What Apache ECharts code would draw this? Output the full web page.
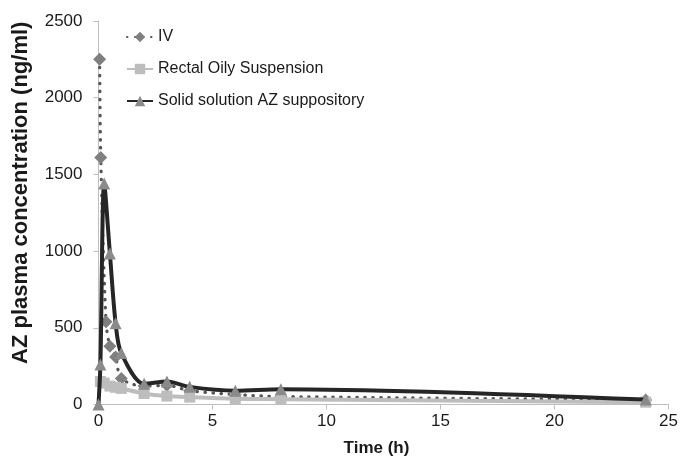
<!DOCTYPE html>
<html>
<head>
<meta charset="utf-8">
<script src="https://cdn.jsdelivr.net/npm/echarts@6/dist/echarts.min.js"></script>
<style>html,body{margin:0;padding:0;background:#fff}#c{width:681px;height:467px}</style>
</head>
<body>
<div id="c"></div>
<script>
const seriesNames = ['IV', 'Rectal Oily Suspension', 'Solid solution AZ suppository'];
const ivTimes = [0.05, 0.1, 0.33, 0.5, 0.75, 1, 2, 3, 4, 6, 8, 24];
const ivValues = [2250, 1610, 540, 380, 310, 170, 120, 125, 90, 65, 52, 30];
const rectalTimes = [0.083, 0.25, 0.5, 0.75, 1, 2, 3, 4, 6, 8, 24];
const rectalValues = [150, 140, 120, 112, 105, 72, 55, 48, 38, 35, 15];
const solidTimes = [0, 0.083, 0.25, 0.5, 0.75, 1, 2, 3, 4, 6, 8, 24];
const solidValues = [0, 260, 1440, 985, 530, 335, 135, 150, 115, 90, 100, 32];
const xTicks = {min: 0, max: 25, interval: 5};
const yTicks = {min: 0, max: 2500, interval: 500};
const xTitle = 'Time (h)';
const yTitle = 'AZ plasma concentration (ng/ml)';

const pairs = (t, v) => t.map((x, i) => [x, v[i]]);
const FONT = 'Liberation Sans, Arial, sans-serif';

const chart = echarts.init(document.getElementById('c'), null, {renderer: 'canvas'});
chart.setOption({
  animation: false,
  backgroundColor: '#ffffff',
  grid: {left: 98.5, right: 12.5, top: 21, bottom: 62.5, containLabel: false, outerBoundsMode: 'none'},
  legend: {
    orient: 'vertical', left: 126, top: 29, padding: 0, itemWidth: 26, itemHeight: 13, itemGap: 16,
    textStyle: {fontFamily: FONT, fontSize: 16, color: '#1a1a1a'},
    data: seriesNames
  },
  xAxis: {
    type: 'value', min: xTicks.min, max: xTicks.max, interval: xTicks.interval,
    name: xTitle, nameLocation: 'middle', nameGap: 35,
    nameTextStyle: {fontFamily: FONT, fontSize: 17, fontWeight: 'bold', color: '#1a1a1a', padding: [0, 14, 0, 0]},
    axisLine: {show: true, lineStyle: {color: '#bfbfbf', width: 1}},
    axisTick: {show: true, inside: false, length: 5, lineStyle: {color: '#bfbfbf'}},
    axisLabel: {fontFamily: FONT, fontSize: 17, color: '#1a1a1a', margin: 8, formatter: v => String(v)},
    splitLine: {show: false}
  },
  yAxis: {
    type: 'value', min: yTicks.min, max: yTicks.max, interval: yTicks.interval,
    name: yTitle, nameLocation: 'middle', nameGap: 67, nameRotate: 90,
    nameTextStyle: {fontFamily: FONT, fontSize: 22, fontWeight: 'bold', color: '#1a1a1a', padding: [0, 0, 0, 40]},
    axisLine: {show: true, lineStyle: {color: '#bfbfbf', width: 1}},
    axisTick: {show: true, inside: false, length: 5, lineStyle: {color: '#bfbfbf'}},
    axisLabel: {fontFamily: FONT, fontSize: 17, color: '#1a1a1a', margin: 16, formatter: v => String(v)},
    splitLine: {show: false}
  },
  series: [
    {
      name: seriesNames[0], type: 'line', data: pairs(ivTimes, ivValues), smooth: 0.3,
      symbol: 'diamond', symbolSize: 13,
      itemStyle: {color: '#7f7f7f'},
      lineStyle: {color: '#555555', width: 3.2, type: [0.5, 7.5], cap: 'round'},
      z: 2
    },
    {
      name: seriesNames[1], type: 'line', data: pairs(rectalTimes, rectalValues), smooth: 0.3,
      symbol: 'rect', symbolSize: 11,
      itemStyle: {color: '#bdbdbd'},
      lineStyle: {color: '#bdbdbd', width: 4},
      z: 3
    },
    {
      name: seriesNames[2], type: 'line', data: pairs(solidTimes, solidValues), smooth: 0.3,
      symbol: 'triangle', symbolSize: 12,
      itemStyle: {color: '#8a8a8a'},
      lineStyle: {color: '#262626', width: 4},
      z: 4
    }
  ]
});
</script>
</body>
</html>
